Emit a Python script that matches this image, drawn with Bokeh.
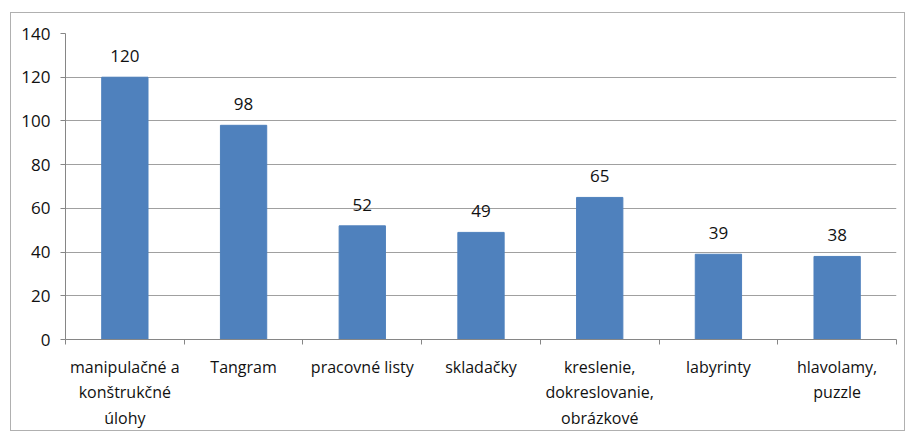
from bokeh.plotting import figure
from bokeh.models import Range1d, FixedTicker, LabelSet, ColumnDataSource
from bokeh.core.properties import value
from bokeh.embed import file_html
from bokeh.resources import INLINE

categories = ["manipulačné a\nkonštrukčné\núlohy", "Tangram", "pracovné listy", "skladačky",
              "kreslenie,\ndokreslovanie,\nobrázkové", "labyrinty", "hlavolamy,\npuzzle"]
values = [120, 98, 52, 49, 65, 39, 38]
y_ticks = [0, 20, 40, 60, 80, 100, 120, 140]

FONT = "Open Sans"
n = len(categories)
xs = [i + 0.5 for i in range(n)]

p = figure(width=895, height=419, output_backend="svg", toolbar_location=None,
           x_range=Range1d(0, n), y_range=Range1d(0, 140),
           min_border_left=54, min_border_right=10, min_border_top=20, min_border_bottom=91)
p.margin = (12, 0, 0, 10)
p.styles = {"border": "1px solid #b0b0b0"}
p.outline_line_color = None
p.background_fill_color = "white"
p.border_fill_color = "white"

src = ColumnDataSource(dict(x=xs, top=values, lab=[str(v) for v in values]))
p.vbar(x="x", top="top", bottom=0, width=0.39, color="#4F81BD", source=src)
p.add_layout(LabelSet(x="x", y="top", text="lab", source=src, y_offset=15,
                      text_align="center", text_baseline="alphabetic",
                      text_font=value(FONT), text_font_size="17px", text_color="#111111"))

# y axis
p.yaxis.ticker = FixedTicker(ticks=y_ticks)
p.yaxis.axis_line_color = "#868686"
p.yaxis.major_tick_line_color = "#868686"
p.yaxis.major_tick_out = 5
p.yaxis.major_tick_in = 0
p.yaxis.minor_tick_line_color = None
p.yaxis.major_label_text_font = FONT
p.yaxis.major_label_text_font_size = "17px"
p.yaxis.major_label_text_color = "#111111"
p.yaxis.major_label_standoff = 10

# x axis
p.xaxis.ticker = FixedTicker(ticks=xs, minor_ticks=list(range(n + 1)))
p.xaxis.major_label_overrides = {x: c for x, c in zip(xs, categories)}
p.xaxis.axis_line_color = "#868686"
p.xaxis.major_tick_line_color = None
p.xaxis.minor_tick_line_color = "#868686"
p.xaxis.minor_tick_out = 5
p.xaxis.minor_tick_in = 0
p.xaxis.major_label_text_font = FONT
p.xaxis.major_label_text_font_size = "16px"
p.xaxis.major_label_text_color = "#111111"
p.xaxis.major_label_text_line_height = 1.18
p.xaxis.major_label_standoff = 10

p.xgrid.grid_line_color = None
p.ygrid.ticker = FixedTicker(ticks=y_ticks)
p.ygrid.grid_line_color = "#a0a0a0"

open("out.html", "w").write(file_html(p, INLINE))
